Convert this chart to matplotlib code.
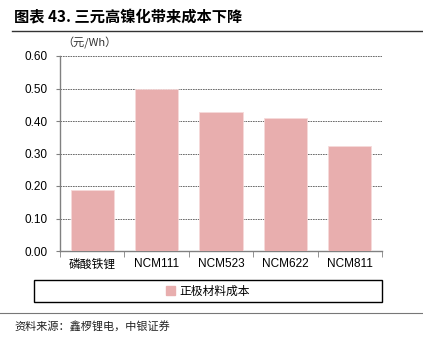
import matplotlib
matplotlib.use("Agg")
import matplotlib.pyplot as plt
from matplotlib.lines import Line2D
from matplotlib.patches import Rectangle

plt.rcParams['font.family'] = ['Liberation Sans', 'Noto Sans CJK SC', 'DejaVu Sans']

categories = ["磷酸铁锂", "NCM111", "NCM523", "NCM622", "NCM811"]
values = [0.188, 0.497, 0.428, 0.408, 0.322]
yticks = [0.0, 0.1, 0.2, 0.3, 0.4, 0.5, 0.6]
series_name = "正极材料成本"
title = "图表 43. 三元高镍化带来成本下降"
unit = "（元/Wh）"
source = "资料来源：鑫椤锂电，中银证券"

W, H = 423, 341
fig = plt.figure(figsize=(W / 100, H / 100), dpi=100)

def fx(px):
    return px / W

def fy(py):
    return 1 - py / H

ax = fig.add_axes([fx(60), fy(251), fx(382) - fx(60), fy(56) - fy(251)])
x = list(range(len(categories)))
ax.bar(x, values, width=0.67, color="#E8AEAE", edgecolor="#F6DADA", linewidth=0.6, zorder=3)
ax.set_xlim(-0.5, len(categories) - 0.5)
ax.set_ylim(0, 0.6)
ax.set_yticks(yticks)
ax.set_yticklabels([f"{v:.2f}" for v in yticks], fontsize=8.5)
ax.set_xticks(x)
ax.set_xticklabels(categories, fontsize=8.5)
for lbl in ax.get_xticklabels():
    if lbl.get_text() == "磷酸铁锂":
        lbl.set_fontfamily(['Noto Sans CJK SC'])
ax.tick_params(axis='x', length=0, pad=5)
ax.tick_params(axis='y', length=3, direction='out', color="#808080", pad=6)
ax.set_xticks([i - 0.5 for i in range(len(categories) + 1)], minor=True)
ax.tick_params(axis='x', which='minor', length=4, direction='out', color="#808080")
ax.grid(axis='y', linestyle=(0, (2, 1)), color="#555555", linewidth=0.6, zorder=0)
for s in ['top', 'right']:
    ax.spines[s].set_visible(False)
for s in ['left', 'bottom']:
    ax.spines[s].set_color("#808080")
    ax.spines[s].set_linewidth(1.0)

# title and lines
fig.text(fx(14), fy(16), title, fontsize=11, fontweight='bold', va='center', ha='left',
         family=['Noto Sans CJK SC', 'DejaVu Sans'])
fig.add_artist(Line2D([fx(12), fx(423)], [fy(31), fy(31)], color="#333333", linewidth=1.0))
fig.text(fx(62), fy(43), unit, fontsize=8, va='center', ha='left',
         family=['Noto Sans CJK SC', 'DejaVu Sans'], color="#333333")

# legend box and centered entry
fig.add_artist(Rectangle((fx(34), fy(302)), fx(382) - fx(34), fy(280) - fy(302),
                         transform=fig.transFigure, facecolor="white", edgecolor="black",
                         linewidth=1.0))
handle = Rectangle((0, 0), 1, 1, color="#E8AEAE")
leg = fig.legend([handle], [series_name], loc='center',
                 bbox_to_anchor=(fx(208), fy(291)), frameon=False,
                 handlelength=0.8, handleheight=0.8, handletextpad=0.4, borderpad=0.0,
                 prop={'family': ['Noto Sans CJK SC'], 'size': 8.5})

fig.add_artist(Line2D([fx(0), fx(423)], [fy(313), fy(313)], color="#777777", linewidth=0.8))
fig.text(fx(14), fy(326), source, fontsize=8, va='center', ha='left',
         family=['Noto Sans CJK SC'], color="#222222")

fig.savefig("out.png", dpi=100)
